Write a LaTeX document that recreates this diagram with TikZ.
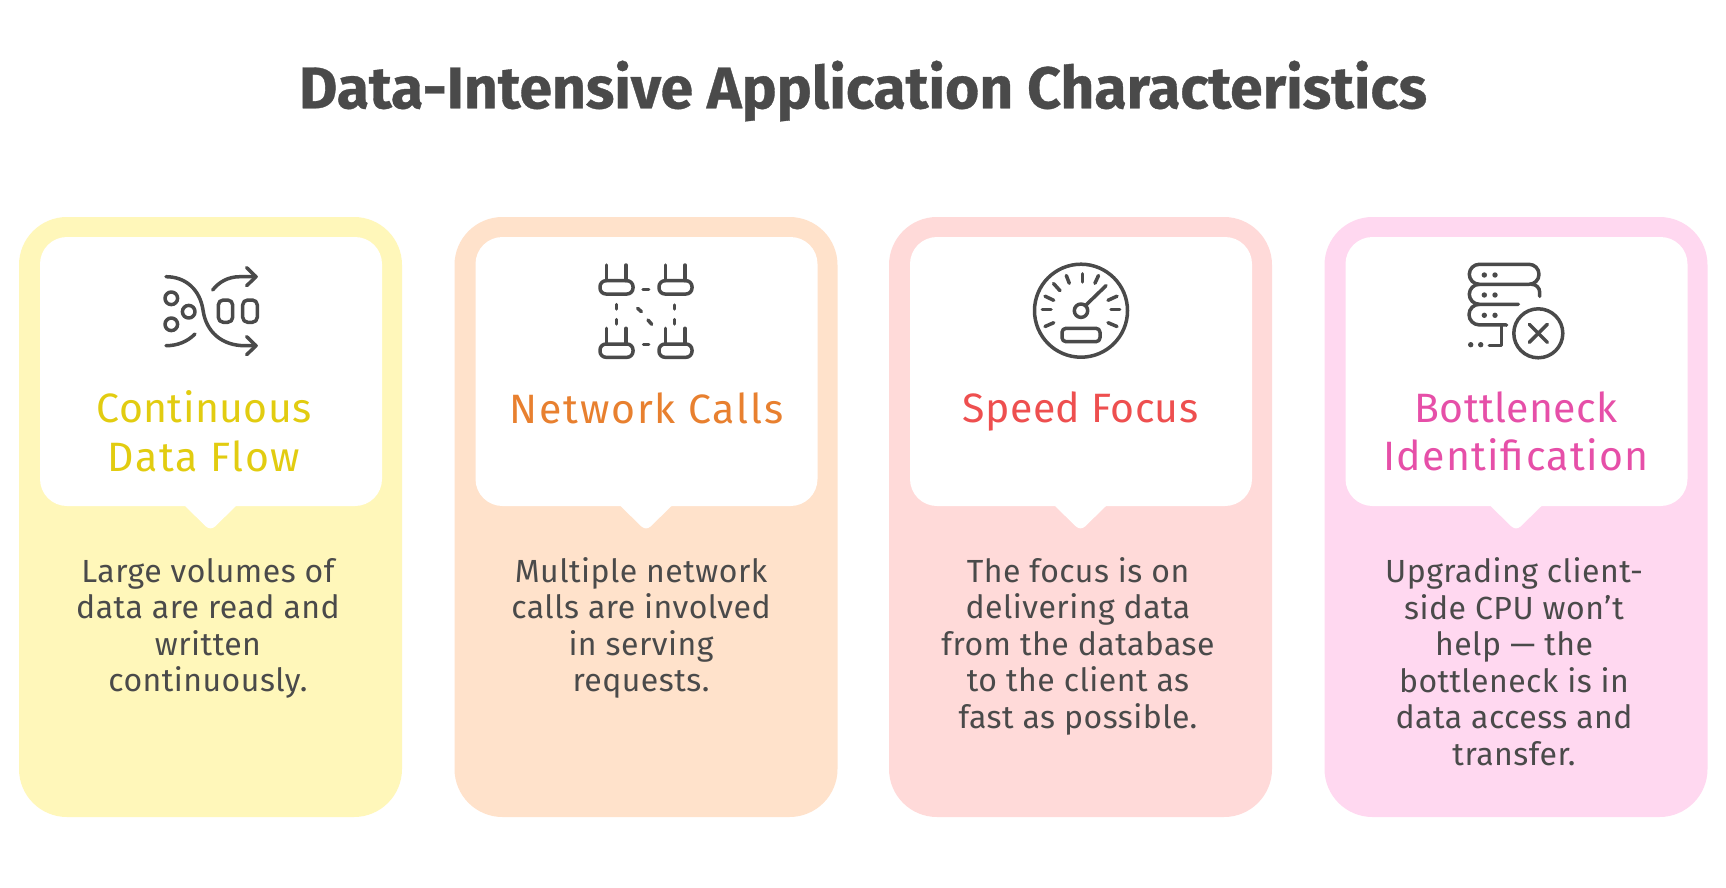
\documentclass[tikz,border=0pt]{standalone}
\usepackage{fontspec}
\setmainfont{Fira Sans}
\newcommand{\cardshape}[2]{%
  \begin{scope}[xshift=#1pt]
    \path[fill=#2,rounded corners=48pt] (19,217) rectangle (402,817);
    \path[fill=white]
      (67,237) -- (355,237) arc[start angle=90,end angle=0,radius=27pt]
      -- (382,479) arc[start angle=0,end angle=-90,radius=27pt]
      -- (236,506) -- (215,526.5) .. controls (212,529) and (209,529) .. (206,526.5)
      -- (185,506) -- (67,506) arc[start angle=270,end angle=180,radius=27pt]
      -- (40,264) arc[start angle=180,end angle=90,radius=27pt] -- cycle;
  \end{scope}}
\definecolor{ink}{HTML}{4A4A4A}
\definecolor{cardY}{HTML}{FFF7BA}\definecolor{cardO}{HTML}{FFE2CB}
\definecolor{cardR}{HTML}{FFDAD9}\definecolor{cardP}{HTML}{FFD8F0}
\definecolor{headY}{HTML}{E2CC10}\definecolor{headO}{HTML}{E8802F}
\definecolor{headR}{HTML}{EE4F4F}\definecolor{headP}{HTML}{E64FA8}
\tikzset{
  titletext/.style={text=ink,inner sep=0pt,font=\fontsize{58.8}{66}\selectfont\bfseries\addfontfeature{FakeBold=0.6}},
  headtext/.style={inner sep=0pt,align=center,font=\fontsize{41}{48.5}\selectfont\addfontfeature{LetterSpace=1}},
  bodytext/.style={text=ink,inner sep=0pt,align=center,font=\fontsize{32}{36.5}\selectfont\addfontfeature{LetterSpace=1.5}},
  icon/.style={draw=ink,line width=3.5pt,line cap=round,line join=round},
  icondot/.style={fill=ink},
}
\begin{document}
\begin{tikzpicture}[x=1pt,y=-1pt]
\useasboundingbox[fill=white] (0,0) rectangle (1726,888);
\node[titletext] (title) at (863,91) {Data-Intensive Application Characteristics};
\cardshape{0}{cardY}\cardshape{435.5}{cardO}\cardshape{870}{cardR}\cardshape{1305.5}{cardP}

% icon 1
\draw[icon] (166,276.7) .. controls (186,276.7) and (200,290) .. (203,310) .. controls (206,332) and (222,345.7) .. (245,345.7) -- (256,345.7);
\draw[icon] (246.7,336.7) -- (256,345.7) -- (246.7,354.7);
\draw[icon] (212.7,290) .. controls (219,282) and (228,276.7) .. (240,276.7) -- (256,276.7);
\draw[icon] (246.7,267.7) -- (256,276.7) -- (246.7,285.7);
\draw[icon] (166,345.7) .. controls (177,345.7) and (187,342) .. (195,334);
\draw[icon] (171.3,298.3) circle[radius=6.3pt];
\draw[icon] (188.7,311.7) circle[radius=6.3pt];
\draw[icon] (171.3,324.3) circle[radius=6.3pt];
\draw[icon,rounded corners=5pt] (218.3,300) rectangle (232.7,322.3);
\draw[icon,rounded corners=5pt] (242.7,300) rectangle (257.3,322.3);

% icon 2
\foreach \rx/\ry in {600/280.7,659/280.7,600/344,659/344}{
  \draw[icon,rounded corners=6pt] (\rx,\ry) rectangle ++(33,13.3);
  \draw[icon] (\rx+6.3,\ry) -- ++(0,-15.7);
  \draw[icon] (\rx+26,\ry) -- ++(0,-15.7);
}
\draw[icon] (643,289.3) -- (648.7,289.3);
\draw[icon] (643.5,344.3) -- (648.7,344.3);
\draw[icon] (616.3,304.5) -- (616.3,309);
\draw[icon] (616.3,319.5) -- (616.3,324);
\draw[icon] (674.7,305) -- (674.7,309);
\draw[icon] (674.7,319.5) -- (674.7,324);
\draw[icon] (637.7,308.3) -- (641.3,311.7);
\draw[icon] (648,320) -- (651.7,324.3);

% icon 3
\draw[icon] (1081,310.7) circle[radius=46.5pt];
\draw[icon] (1081,310.7) circle[radius=6.7pt];
\draw[icon] (1086,305) -- (1106,285.7);
\draw[icon] (1082.7,273.8) -- (1082.7,282);
\draw[icon] (1066.3,275.5) -- (1069.3,283.3);
\draw[icon] (1053.5,283.5) -- (1060,290.7);
\draw[icon] (1045,296.2) -- (1053.7,300.3);
\draw[icon] (1042.3,309.3) -- (1051,309.3);
\draw[icon] (1045,326.5) -- (1053.7,322.7);
\draw[icon] (1098.5,275.5) -- (1094.9,283.3);
\draw[icon] (1108,300.3) -- (1117,296.2);
\draw[icon] (1111,309.3) -- (1119.7,309.3);
\draw[icon] (1108,322.7) -- (1117,326.5);
\draw[icon,rounded corners=4pt] (1062,328.3) rectangle (1100,341.7);

% icon 4
\draw[icon,rounded corners=10pt] (1469.3,264.3) rectangle (1539,284.3);
\draw[icon] (1531.7,284.3) arc[start angle=90,end angle=0,radius=8pt] -- ++(0,4);
\draw[icon] (1479.3,284.3) arc[start angle=90,end angle=270,radius=10pt] -- (1518.3,304.3);
\draw[icon] (1479.3,304.3) arc[start angle=90,end angle=270,radius=10.3pt] -- (1506.7,325);
\draw[icon] (1501.7,325) -- (1501.7,345.7) -- (1489.3,345.7);
\foreach \dy in {275,295,315.3}{
  \fill[icondot] (1484.3,\dy) circle[radius=2.7pt];
  \fill[icondot] (1495,\dy) circle[radius=2.7pt];
}
\fill[icondot] (1470.7,344.7) circle[radius=2.7pt];
\fill[icondot] (1480.7,344.7) circle[radius=2.7pt];
\draw[icon] (1538.3,333.3) circle[radius=24.5pt];
\draw[icon] (1529.3,324.3) -- (1547.3,342.3);
\draw[icon] (1547.3,324.3) -- (1529.3,342.3);

% headings
\node[headtext,text=headY] (h1) at (204,431.5) {Continuous\\\addfontfeature{LetterSpace=4}Data Flow};
\node[headtext,text=headO] (h2) at (646.5,408) {\addfontfeature{LetterSpace=4.5}Network Calls};
\node[headtext,text=headR] (h3) at (1080.5,411) {Speed Focus};
\node[headtext,text=headP] (h4) at (1516,431.5) {Bottleneck\\\addfontfeature{LetterSpace=3.5}Identification};

% bodies
\node[bodytext] (b1) at (208,628.5) {Large volumes of\\data are read and\\written\\continuously.};
\node[bodytext] (b2) at (641,628) {Multiple network\\calls are involved\\in serving\\requests.};
\node[bodytext] (b3) at (1078,646) {The focus is on\\delivering data\\from the database\\to the client as\\fast as possible.};
\node[bodytext] (b4) at (1514,661.5) {Upgrading client-\\side CPU won't\\help — the\\bottleneck is in\\data access and\\transfer.};
\end{tikzpicture}
\end{document}
